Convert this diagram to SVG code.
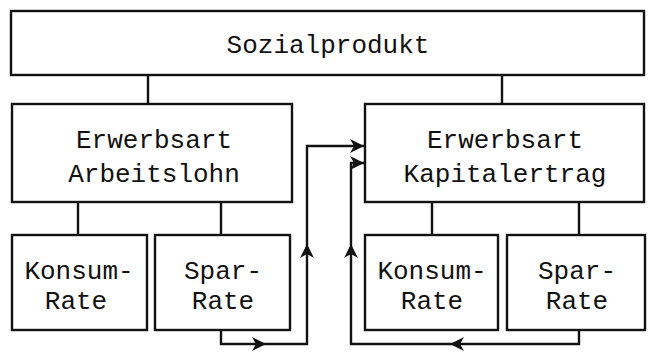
<svg xmlns="http://www.w3.org/2000/svg" width="656" height="352" viewBox="0 0 656 352">
<style>
.box{fill:#fff;stroke:#111;stroke-width:2.4}
.ln{fill:none;stroke:#111;stroke-width:2.4}
text{font-family:"Liberation Mono","Courier New",monospace;font-size:26px;fill:#111;text-anchor:middle}
</style>
<defs>
<marker id="ah" markerUnits="userSpaceOnUse" markerWidth="16" markerHeight="14" refX="14" refY="7" orient="auto">
<path d="M0,0 L14,7 L0,14 L4,7 Z" fill="#111"/>
</marker>
</defs>
<rect width="656" height="352" fill="#fff"/>
<g id="connectors">
<path class="ln" d="M148,75 V104"/>
<path class="ln" d="M502,75 V104"/>
<path class="ln" d="M78,202 V235"/>
<path class="ln" d="M221,202 V235"/>
<path class="ln" d="M432,202 V235"/>
<path class="ln" d="M579,202 V235"/>
<path class="ln" d="M221,330 V344 H266" marker-end="url(#ah)"/>
<path class="ln" d="M266,344 H307 V244" marker-end="url(#ah)"/>
<path class="ln" d="M307,244 V146 H364" marker-end="url(#ah)"/>
<path class="ln" d="M579,330 V344 H450" marker-end="url(#ah)"/>
<path class="ln" d="M450,344 H351 V244" marker-end="url(#ah)"/>
<path class="ln" d="M351,244 V163 H364" marker-end="url(#ah)"/>
</g>
<g id="sozialprodukt">
<rect class="box" x="11" y="11" width="633" height="64"/>
<text x="328" y="53">Sozialprodukt</text>
</g>
<g id="arbeitslohn">
<rect class="box" x="12" y="104" width="280" height="98"/>
<text x="154" y="148">Erwerbsart</text>
<text x="154" y="182">Arbeitslohn</text>
</g>
<g id="kapitalertrag">
<rect class="box" x="365" y="104" width="279" height="98"/>
<text x="505" y="148">Erwerbsart</text>
<text x="505" y="182">Kapitalertrag</text>
</g>
<g id="konsum1">
<rect class="box" x="12" y="235" width="135" height="95"/>
<text x="79" y="279">Konsum-</text>
<text x="76" y="309">Rate</text>
</g>
<g id="spar1">
<rect class="box" x="155" y="235" width="135" height="95"/>
<text x="223" y="279">Spar-</text>
<text x="223" y="309">Rate</text>
</g>
<g id="konsum2">
<rect class="box" x="365" y="235" width="133" height="95"/>
<text x="432" y="279">Konsum-</text>
<text x="432" y="309">Rate</text>
</g>
<g id="spar2">
<rect class="box" x="507" y="235" width="138" height="95"/>
<text x="577" y="279">Spar-</text>
<text x="577" y="309">Rate</text>
</g>
</svg>
